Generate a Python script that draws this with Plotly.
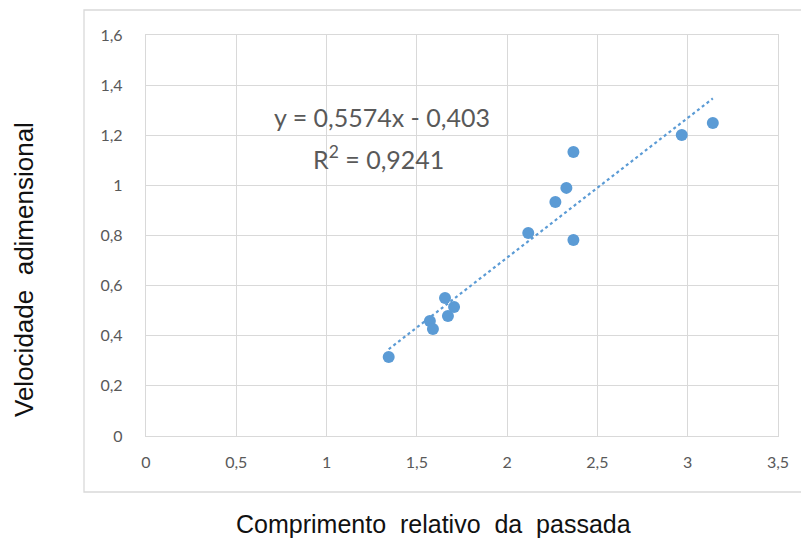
import plotly.graph_objects as go

x_vals = [1.344, 1.572, 1.589, 1.656, 1.672, 1.706, 2.117, 2.267, 2.328, 2.367, 2.367, 2.967, 3.139]
y_vals = [0.315, 0.459, 0.427, 0.551, 0.479, 0.515, 0.810, 0.934, 0.990, 1.133, 0.782, 1.201, 1.249]
slope = 0.5574
intercept = -0.403
eq_text = "y = 0,5574x - 0,403"
r2_text = "R<sup>2</sup> = 0,9241"
x_title = "Comprimento  relativo  da  passada"
y_title = "Velocidade  adimensional"

blue = "#5B9BD5"
gray_text = "#595959"
grid = "#D9D9D9"

xmin, xmax = min(x_vals), max(x_vals)
trend_x = [xmin, xmax]
trend_y = [slope * v + intercept for v in trend_x]

fig = go.Figure()
fig.add_trace(go.Scatter(x=trend_x, y=trend_y, mode="lines",
                         line=dict(color=blue, width=2.2, dash="dot"),
                         hoverinfo="skip", showlegend=False))
fig.add_trace(go.Scatter(x=x_vals, y=y_vals, mode="markers",
                         marker=dict(color=blue, size=12),
                         showlegend=False))

def px(sx):
    return (sx - 146) / 632

def py(sy):
    return (436 - sy) / 401

fig.update_layout(
    width=809, height=541,
    margin=dict(l=138, r=39, t=27, b=113),
    paper_bgcolor="white", plot_bgcolor="white",
    separators=",.",
    font=dict(family="Lato, Open Sans, sans-serif", color=gray_text, size=16),
    xaxis=dict(range=[0, 3.5], dtick=0.5, showgrid=True, gridcolor=grid, gridwidth=1.3,
               zeroline=False, showline=True, linecolor=grid, linewidth=1.3, mirror=True,
               ticks="", ticklabelstandoff=12, tickfont=dict(size=16, color=gray_text)),
    yaxis=dict(range=[0, 1.6], dtick=0.2, showgrid=True, gridcolor=grid, gridwidth=1.3,
               zeroline=False, showline=True, linecolor=grid, linewidth=1.3, mirror=True,
               ticks="", ticklabelstandoff=19, tickfont=dict(size=16, color=gray_text)),
    shapes=[dict(type="rect", xref="paper", yref="paper",
                 x0=px(84), x1=px(812), y0=py(492), y1=py(10),
                 line=dict(color="#D9D9D9", width=1.3), fillcolor="rgba(0,0,0,0)",
                 layer="below")],
    annotations=[
        dict(x=1.307, y=1.273, xref="x", yref="y", text=eq_text, showarrow=False,
             xanchor="center", yanchor="middle",
             font=dict(family="Lato, Open Sans, sans-serif", size=25, color=gray_text)),
        dict(x=1.285, y=1.113, xref="x", yref="y", text=r2_text, showarrow=False,
             xanchor="center", yanchor="middle",
             font=dict(family="Lato, Open Sans, sans-serif", size=25, color=gray_text)),
        dict(x=px(433), y=py(524), xref="paper", yref="paper",
             text=x_title, showarrow=False, xanchor="center", yanchor="middle",
             font=dict(family="Liberation Sans, Arial, sans-serif", size=25, color="#111111")),
        dict(x=px(24), y=py(270), xref="paper", yref="paper",
             text=y_title, showarrow=False, textangle=-90, xanchor="center", yanchor="middle",
             font=dict(family="Liberation Sans, Arial, sans-serif", size=26, color="#111111")),
    ],
)

fig.write_html("out.html")
